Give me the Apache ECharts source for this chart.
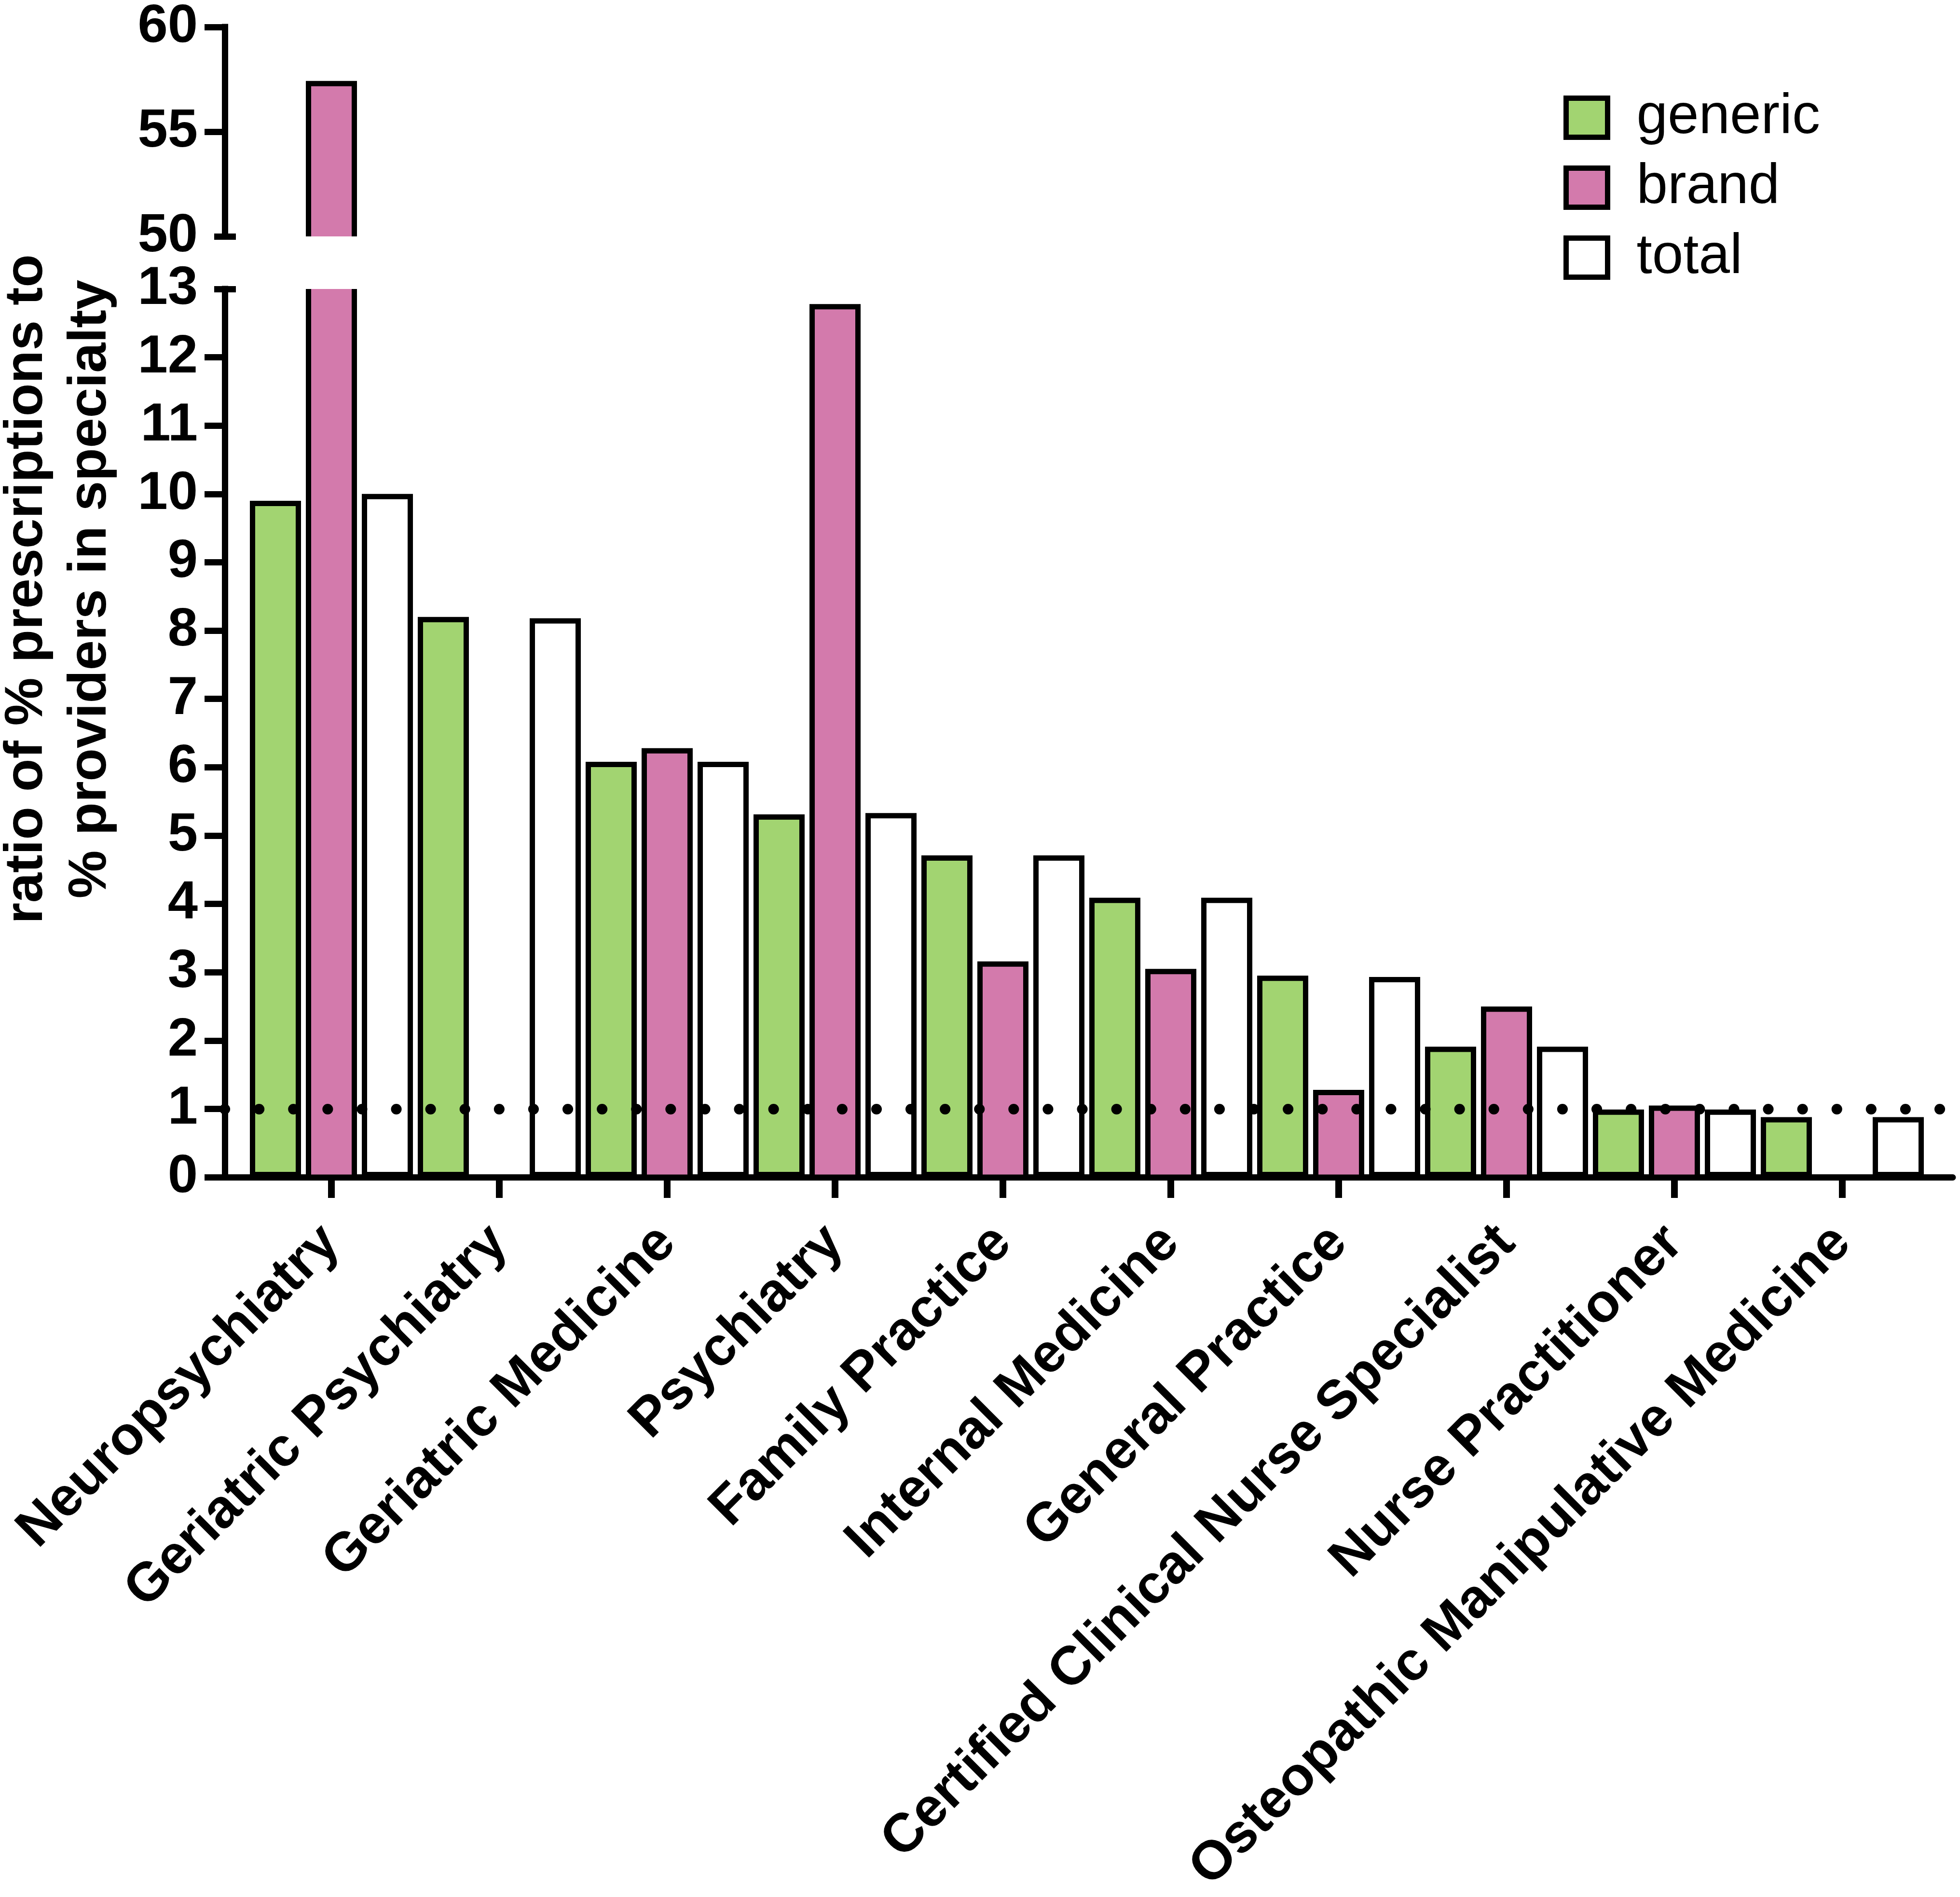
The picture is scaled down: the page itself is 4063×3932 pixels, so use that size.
<!DOCTYPE html>
<html lang="en">
<head>
<meta charset="UTF-8">
<title>Prescription ratio by specialty</title>
<style>
    body {
        padding: 0;
        margin: 0;
        background-color: #FFFFFF;
        overflow: hidden;
    }
    #main_chart {
        width: 4063px;
        height: 3932px;
    }
</style>
</head>
<body>
<div id="main_chart"></div>
<script src="https://cdn.jsdelivr.net/npm/echarts@6/dist/echarts.min.js"></script>
<script>
var specialties = ['Neuropsychiatry', 'Geriatric Psychiatry', 'Geriatric Medicine', 'Psychiatry',
    'Family Practice', 'Internal Medicine', 'General Practice',
    'Certified Clinical Nurse Specialist', 'Nurse Practitioner', 'Osteopathic Manipulative Medicine'];
var generic = [9.90, 8.20, 6.08, 5.31, 4.71, 4.09, 2.95, 1.91, 0.99, 0.88];
var brand   = [57.3, null, 6.24, 12.74, 3.12, 3.01, 1.24, 2.46, 1.01, null];
var total   = [10.0, 8.18, 6.08, 5.33, 4.71, 4.09, 2.93, 1.91, 0.99, 0.88];

var lowTicks = [0, 1, 2, 3, 4, 5, 6, 7, 8, 9, 10, 11, 12];
var highTicks = [55, 60];
var referenceLine = 1;

var GREEN = '#A2D471';
var PINK = '#D37AAC';
var BAR_W = 95;        // custom bars: stroke sits on the edge
var BAR_OUTER = 106;   // bar series: stroke is drawn inside
var BORDER = 11;
var AXIS_W = 13;
var FONT = 'Liberation Sans';

var dom = document.getElementById('main_chart');

// brand bars are drawn by hand so the broken bar keeps no border at the cut
function brandBar(params, api) {
    var v = api.value(1);
    if (v == null || isNaN(v)) return;
    var top = api.coord([api.value(0), v]);
    var base = api.coord([api.value(0), 0]);
    return {
        type: 'rect',
        shape: { x: top[0] - BAR_W / 2, y: top[1], width: BAR_W, height: base[1] - top[1] },
        style: { fill: PINK, stroke: '#000', lineWidth: BORDER }
    };
}

var brandData = brand.map(function (v, i) { return [i, v]; });

var hiddenValue = function (grid) {
    return { type: 'value', gridIndex: grid, show: false, min: 0, max: 1 };
};

var makeGrid = function (left, right, top, bottom) {
    return { left: left, right: right, top: top, bottom: bottom, outerBoundsMode: 'none', containLabel: false };
};

var option = {
    animation: false,
    textStyle: { fontFamily: FONT },
    legend: {
        data: ['generic', 'brand', 'total'],
        orient: 'vertical',
        left: 3241,
        top: 186,
        padding: 0,
        itemWidth: 86,
        itemHeight: 81,
        itemGap: 29,
        icon: 'rect',
        itemStyle: { borderColor: '#000', borderWidth: BORDER },
        textStyle: { fontSize: 116, color: '#000', fontFamily: FONT, padding: [0, 0, 0, 55] }
    },
    grid: [
        makeGrid(466, 15, 599, 1492),   // lower axis
        makeGrid(513, 70, 599, 1492),   // lower bars
        makeGrid(466, 15, 56, 3442),    // upper axis
        makeGrid(513, 70, 56, 3442),    // upper bars
        makeGrid(466, 15, 56, 1546)     // axis title
    ],
    xAxis: [
        {
            type: 'value', gridIndex: 0, min: 0, max: 1,
            axisLine: { show: true, lineStyle: { color: '#000', width: AXIS_W } },
            axisTick: { show: false }, axisLabel: { show: false }, splitLine: { show: false }
        },
        {
            type: 'category', gridIndex: 1, data: specialties,
            axisLine: { show: false },
            axisTick: { show: true, alignWithLabel: true, interval: 0, length: 43,
                lineStyle: { color: '#000', width: 14 } },
            axisLabel: { interval: 0, rotate: 45, margin: 119, fontSize: 113, fontWeight: 'bold',
                color: '#000', fontFamily: FONT }
        },
        hiddenValue(2),
        { type: 'category', gridIndex: 3, data: specialties, show: false },
        hiddenValue(4)
    ],
    yAxis: [
        {
            type: 'value', gridIndex: 0, min: 0, max: 13, interval: 1, position: 'left',
            axisLine: { show: true, lineStyle: { color: '#000', width: AXIS_W, cap: 'square' } },
            axisTick: { show: true, length: 42, customValues: lowTicks,
                lineStyle: { color: '#000', width: AXIS_W } },
            axisLabel: { margin: 56, fontSize: 112, fontWeight: 'bold', color: '#000', fontFamily: FONT },
            splitLine: { show: false }
        },
        {
            type: 'value', gridIndex: 0, min: 0, max: 13, offset: 22, position: 'left',
            axisLine: { show: false }, axisLabel: { show: false }, splitLine: { show: false },
            axisTick: { show: true, inside: true, length: 45, customValues: [13],
                lineStyle: { color: '#000', width: AXIS_W } }
        },
        { type: 'value', gridIndex: 1, min: 0, max: 13, show: false },
        {
            type: 'value', gridIndex: 2, min: 50, max: 60, interval: 5, position: 'left',
            axisLine: { show: true, lineStyle: { color: '#000', width: AXIS_W, cap: 'square' } },
            axisTick: { show: true, length: 42, customValues: highTicks,
                lineStyle: { color: '#000', width: AXIS_W } },
            axisLabel: { margin: 56, fontSize: 112, fontWeight: 'bold', color: '#000', fontFamily: FONT },
            splitLine: { show: false }
        },
        {
            type: 'value', gridIndex: 2, min: 50, max: 60, offset: 22, position: 'left',
            axisLine: { show: false }, axisLabel: { show: false }, splitLine: { show: false },
            axisTick: { show: true, inside: true, length: 45, customValues: [50],
                lineStyle: { color: '#000', width: AXIS_W } }
        },
        { type: 'value', gridIndex: 3, min: 50, max: 60, show: false },
        {
            type: 'value', gridIndex: 4, min: 0, max: 1, position: 'left',
            axisLine: { show: false }, axisTick: { show: false }, axisLabel: { show: false },
            splitLine: { show: false },
            name: 'ratio of % prescriptions to\n% providers in specialty',
            nameLocation: 'middle',
            nameRotate: 90,
            nameGap: 212,
            nameTextStyle: { fontSize: 112, fontWeight: 'bold', color: '#000', lineHeight: 132,
                fontFamily: FONT }
        }
    ],
    series: [
        {
            name: 'generic', type: 'bar', xAxisIndex: 1, yAxisIndex: 2,
            data: generic, barWidth: BAR_OUTER, barGap: '118.9%',
            itemStyle: { color: GREEN, borderColor: '#000', borderWidth: BORDER }
        },
        {
            name: 'total', type: 'bar', xAxisIndex: 1, yAxisIndex: 2,
            data: total, barWidth: BAR_OUTER, barGap: '118.9%',
            itemStyle: { color: '#FFFFFF', borderColor: '#000', borderWidth: BORDER }
        },
        {
            name: 'brand', type: 'custom', xAxisIndex: 1, yAxisIndex: 2,
            data: brandData, encode: { x: 0, y: 1 }, clip: true,
            renderItem: brandBar,
            itemStyle: { color: PINK, borderColor: '#000', borderWidth: BORDER }
        },
        {
            name: 'brand', type: 'custom', xAxisIndex: 3, yAxisIndex: 5,
            data: brandData, encode: { x: 0, y: 1 }, clip: true,
            renderItem: brandBar,
            itemStyle: { color: PINK, borderColor: '#000', borderWidth: BORDER }
        },
        {
            type: 'line', xAxisIndex: 0, yAxisIndex: 0, data: [], z: 6, silent: true,
            markLine: {
                silent: true,
                symbol: 'none',
                label: { show: false },
                lineStyle: { color: '#000', width: 22, type: [0.1, 71], cap: 'round' },
                data: [{ yAxis: referenceLine }]
            }
        }
    ]
};

var chart = echarts.init(dom);
chart.setOption(option);
</script>
</body>
</html>
